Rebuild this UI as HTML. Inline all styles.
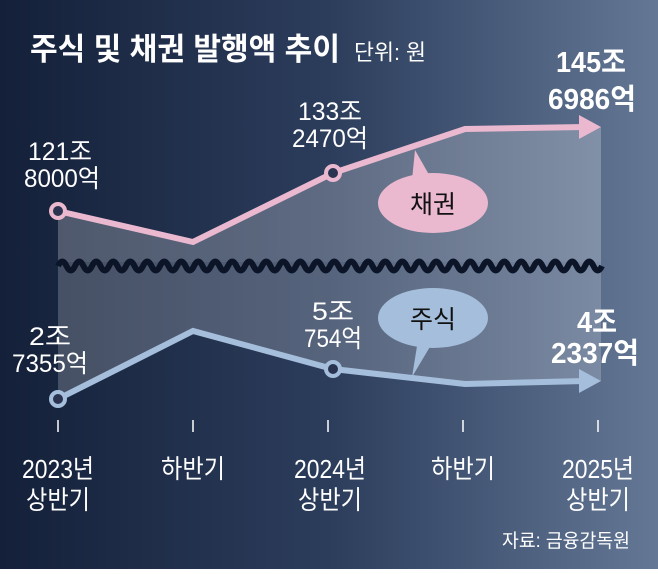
<!DOCTYPE html>
<html><head><meta charset="utf-8"><style>
body{margin:0;width:658px;height:569px;overflow:hidden}
svg text{font-family:"Liberation Sans","Noto Sans CJK KR",sans-serif;fill:#fff}
</style></head><body>
<svg width="658" height="569" viewBox="0 0 658 569" xmlns="http://www.w3.org/2000/svg">
<defs>
<linearGradient id="bg" x1="0" x2="1" y1="0" y2="0">
<stop offset="0" stop-color="#142039"/><stop offset="0.5" stop-color="#2c3d5c"/><stop offset="1" stop-color="#647896"/>
</linearGradient>
</defs>
<rect width="658" height="569" fill="url(#bg)"/>
<polygon points="58,211 193,242 333,173 465,129 601,127 601,262 58,262" fill="#ffffff" fill-opacity="0.24"/>
<polygon points="58,262 601,262 601,381 465,384 333,369 193,331 58,399" fill="#ffffff" fill-opacity="0.2"/>
<path d="M58,266 q4.25,-9 8.5,0 t8.5,0 t8.5,0 t8.5,0 t8.5,0 t8.5,0 t8.5,0 t8.5,0 t8.5,0 t8.5,0 t8.5,0 t8.5,0 t8.5,0 t8.5,0 t8.5,0 t8.5,0 t8.5,0 t8.5,0 t8.5,0 t8.5,0 t8.5,0 t8.5,0 t8.5,0 t8.5,0 t8.5,0 t8.5,0 t8.5,0 t8.5,0 t8.5,0 t8.5,0 t8.5,0 t8.5,0 t8.5,0 t8.5,0 t8.5,0 t8.5,0 t8.5,0 t8.5,0 t8.5,0 t8.5,0 t8.5,0 t8.5,0 t8.5,0 t8.5,0 t8.5,0 t8.5,0 t8.5,0 t8.5,0 t8.5,0 t8.5,0 t8.5,0 t8.5,0 t8.5,0 t8.5,0 t8.5,0 t8.5,0 t8.5,0 t8.5,0 t8.5,0 t8.5,0 t8.5,0 t8.5,0 t8.5,0 t8.5,0" fill="none" stroke="#0c1528" stroke-width="6"/>
<polyline points="58,211 193,242 333,173 465,129 585,127" fill="none" stroke="#eab8cf" stroke-width="6"/>
<polygon points="579,115 601,127 579,139" fill="#eab8cf"/>
<circle cx="58" cy="211" r="7" fill="#2a3450" stroke="#eab8cf" stroke-width="4"/>
<circle cx="333" cy="173" r="7" fill="#2a3450" stroke="#eab8cf" stroke-width="4"/>
<polyline points="58,399 193,331 333,369 465,384 585,381" fill="none" stroke="#a4bedb" stroke-width="6"/>
<polygon points="579,369 601,381 579,393" fill="#a4bedb"/>
<circle cx="58" cy="399" r="7" fill="#2a3450" stroke="#a4bedb" stroke-width="4"/>
<circle cx="333" cy="369" r="7" fill="#2a3450" stroke="#a4bedb" stroke-width="4"/>
<polygon points="415,150 432,180 412,180" fill="#eab8cf"/>
<ellipse cx="433" cy="203" rx="55" ry="30" fill="#eab8cf"/>
<text x="433" y="213" font-size="25" text-anchor="middle" style="fill:#111">채권</text>
<polygon points="412,377 434,340 418,340" fill="#a4bedb"/>
<ellipse cx="433" cy="318" rx="55" ry="30" fill="#a4bedb"/>
<text x="433" y="328" font-size="25" text-anchor="middle" style="fill:#111">주식</text>
<text x="30" y="60" font-size="31" font-weight="bold" textLength="310" lengthAdjust="spacingAndGlyphs">주식 및 채권 발행액 추이</text>
<text x="354" y="60" font-size="22" textLength="72" lengthAdjust="spacingAndGlyphs">단위: 원</text>
<g font-size="25" text-anchor="middle">
<text x="60" y="160" textLength="64" lengthAdjust="spacingAndGlyphs">121조</text><text x="62" y="187" textLength="76" lengthAdjust="spacingAndGlyphs">8000억</text>
<text x="330" y="120" textLength="64" lengthAdjust="spacingAndGlyphs">133조</text><text x="330" y="147" textLength="76" lengthAdjust="spacingAndGlyphs">2470억</text>
<text x="50" y="345" textLength="42" lengthAdjust="spacingAndGlyphs">2조</text><text x="50" y="372" textLength="76" lengthAdjust="spacingAndGlyphs">7355억</text>
<text x="333" y="320" textLength="42" lengthAdjust="spacingAndGlyphs">5조</text><text x="333" y="347" textLength="58" lengthAdjust="spacingAndGlyphs">754억</text>
</g>
<g font-size="29" font-weight="bold" text-anchor="middle">
<text x="591" y="72" textLength="70" lengthAdjust="spacingAndGlyphs">145조</text><text x="592" y="109" textLength="88" lengthAdjust="spacingAndGlyphs">6986억</text>
<text x="597" y="332" textLength="40" lengthAdjust="spacingAndGlyphs">4조</text><text x="595" y="363" textLength="88" lengthAdjust="spacingAndGlyphs">2337억</text>
</g>
<g stroke="#fff" stroke-width="1.5">
<line x1="58" y1="420" x2="58" y2="432"/><line x1="193" y1="420" x2="193" y2="432"/>
<line x1="328" y1="420" x2="328" y2="432"/><line x1="463" y1="420" x2="463" y2="432"/>
<line x1="598" y1="420" x2="598" y2="432"/>
</g>
<g font-size="26" text-anchor="middle">
<text x="58" y="478" textLength="72" lengthAdjust="spacingAndGlyphs">2023년</text><text x="58" y="509" textLength="64" lengthAdjust="spacingAndGlyphs">상반기</text>
<text x="193" y="478" textLength="64" lengthAdjust="spacingAndGlyphs">하반기</text>
<text x="330" y="478" textLength="72" lengthAdjust="spacingAndGlyphs">2024년</text><text x="330" y="509" textLength="64" lengthAdjust="spacingAndGlyphs">상반기</text>
<text x="463" y="478" textLength="64" lengthAdjust="spacingAndGlyphs">하반기</text>
<text x="598" y="478" textLength="72" lengthAdjust="spacingAndGlyphs">2025년</text><text x="598" y="509" textLength="64" lengthAdjust="spacingAndGlyphs">상반기</text>
</g>
<text x="630" y="547" font-size="19" text-anchor="end" textLength="128" lengthAdjust="spacingAndGlyphs">자료: 금융감독원</text>
</svg>
</body></html>
